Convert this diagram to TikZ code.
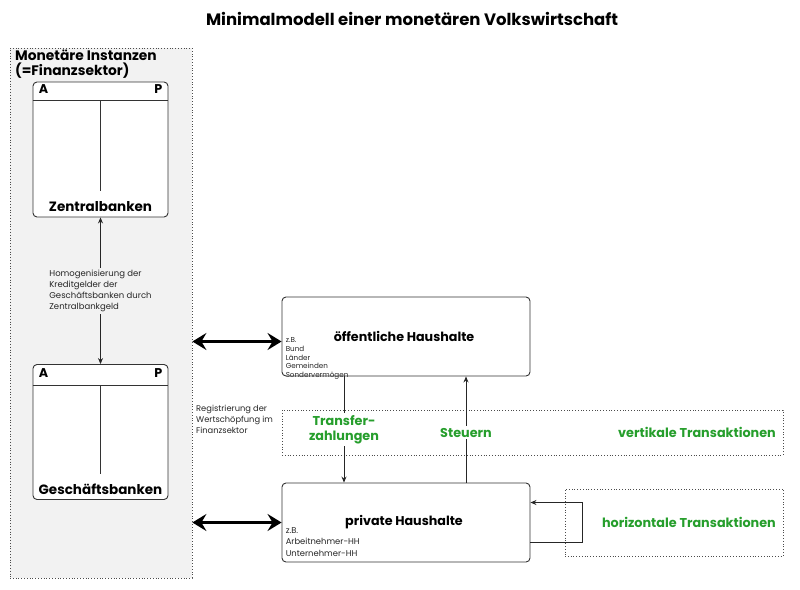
\documentclass[tikz,border=0pt]{standalone}
\usepackage{fontspec}
\setmainfont{Poppins}
\usetikzlibrary{arrows.meta, positioning}
\definecolor{trgreen}{RGB}{38,158,44}
\tikzset{
  konto/.style={
    rectangle, rounded corners=4pt, minimum width=135pt, minimum height=135pt,
    draw=black!80, fill=white, line width=0.9pt
  },
  haushalt/.style={
    rectangle, rounded corners=4pt, minimum width=248pt, minimum height=79pt,
    draw=black!80, fill=white, line width=0.9pt
  },
  sektor/.style={
    rectangle, draw=black!70, dotted, line width=0.8pt, inner sep=0pt
  },
  titel/.style={font=\fontsize{12.7}{14}\selectfont\bfseries},
  kontoname/.style={font=\fontsize{13.5}{15}\selectfont\bfseries},
  klein/.style={font=\fontsize{7.5}{9.5}\selectfont, align=left, text=black!85, inner sep=0pt},
  gruen/.style={font=\fontsize{12.8}{14.5}\selectfont\bfseries, text=trgreen, align=center},
  arrow/.style={
    -{Stealth[length=6pt,width=5pt]}, line width=0.8pt, color=black!85
  },
  dblarrow/.style={
    {Stealth[length=14pt,width=17pt,inset=5pt]}-{Stealth[length=14pt,width=17pt,inset=5pt]},
    line width=3pt
  }
}

\begin{document}
\begin{tikzpicture}[x=1pt, y=-1pt]
      \useasboundingbox (0,0) rectangle (800,589);
      % Title
      \node[font=\fontsize{16.5}{19}\selectfont\bfseries] (title) at (412,19)
        {Minimalmodell einer monetären Volkswirtschaft};

      % Finanzsektor
      \node[sektor, fill=gray!10, minimum width=182pt, minimum height=530pt] (fin) at (101,313) {};
      \node[font=\fontsize{13.8}{15}\selectfont\bfseries, anchor=base west, align=left, inner sep=0pt]
        (finlabel) at (15,75.5) {Monetäre Instanzen\\(=Finanzsektor)};

      % T-Konten
      \node[konto] (zb) at (100.5,149.5) {};
      \draw[line width=0.9pt, black!80] ([yshift=-19pt]zb.north west) -- ([yshift=-19pt]zb.north east);
      \draw[line width=0.9pt, black!80] ([yshift=-19pt]zb.north) -- ([yshift=26pt]zb.south);
      \node[titel, anchor=north west, inner sep=0pt] (zbA) at ([xshift=6pt,yshift=-3pt]zb.north west) {A};
      \node[titel, anchor=north east, inner sep=0pt] (zbP) at ([xshift=-6pt,yshift=-3pt]zb.north east) {P};
      \node[kontoname, above=2pt of zb.south] (zbname) {Zentralbanken};

      \node[konto] (gb) at (100.5,432) {};
      \draw[line width=0.9pt, black!80] ([yshift=-21pt]gb.north west) -- ([yshift=-21pt]gb.north east);
      \draw[line width=0.9pt, black!80] ([yshift=-21pt]gb.north) -- ([yshift=26pt]gb.south);
      \node[titel, anchor=north west, inner sep=0pt] (gbA) at ([xshift=6pt,yshift=-4pt]gb.north west) {A};
      \node[titel, anchor=north east, inner sep=0pt] (gbP) at ([xshift=-6pt,yshift=-4pt]gb.north east) {P};
      \node[kontoname, above=2pt of gb.south] (gbname) {Geschäftsbanken};

      % Homogenisierung
      \draw[arrow, <->, >={Stealth[length=6pt,width=5pt]}] (gb.north) -- node[klein, fill=gray!10, inner sep=2pt, font=\fontsize{8.5}{11}\selectfont] (homo)
        {Homogenisierung der\\Kreditgelder der\\Geschäftsbanken durch\\Zentralbankgeld} (zb.south);

      % Registrierung
      \node[klein, anchor=north west, font=\fontsize{8.3}{10.8}\selectfont] (reg) at (196,405)
        {Registrierung der\\Wertschöpfung im\\Finanzsektor};

      % Transaktionsbereiche
      \node[sektor, minimum width=501pt, minimum height=45pt] (vt) at (532.5,432.5) {};
      \node[gruen, anchor=east] (vtlabel) at ([xshift=-4pt]vt.east) {vertikale Transaktionen};
      \node[sektor, minimum width=218pt, minimum height=67pt] (ht) at (674,522.5) {};
      \node[gruen, anchor=east] (htlabel) at ([xshift=-4pt]ht.east) {horizontale Transaktionen};

      % Haushalte
      \node[haushalt] (oeh) at (406,336.5) {};
      \node[titel] (oehname) at (404,336) {öffentliche Haushalte};
      \node[klein, font=\fontsize{7.2}{8.6}\selectfont, anchor=south west] (oehbsp) at ([xshift=4pt,yshift=-3pt]oeh.south west)
        {z.B.\\Bund\\Länder\\Gemeinden\\Sondervermögen};

      \node[haushalt] (prh) at (406,522.5) {};
      \node[titel] (prhname) at (404,522) {private Haushalte};
      \node[klein, font=\fontsize{8.4}{11.5}\selectfont, anchor=south west] (prhbsp) at ([xshift=4pt,yshift=6pt]prh.south west)
        {z.B.\\Arbeitnehmer-HH\\Unternehmer-HH};

      % Finanzsektor <-> Haushalte
      \draw[dblarrow] ([yshift=-5pt]fin.east |- oeh.west) -- ([yshift=-5pt]oeh.west);
      \draw[dblarrow] (fin.east |- prh.west) -- (prh.west);

      % vertikale Transaktionen
      \draw[arrow] ([xshift=-62pt]oeh.south) -- node[gruen, fill=white, inner sep=2pt] (transfer) {Transfer-\\zahlungen}
        ([xshift=-62pt]prh.north);
      \draw[arrow] ([xshift=60pt]prh.north) -- node[gruen, fill=white, inner sep=2pt, pos=0.47] (steuern) {Steuern}
        ([xshift=60pt]oeh.south);

      % horizontale Transaktionen
      \draw[arrow] ([yshift=-20pt]prh.east) -- ++(52pt,0) |- ([yshift=20pt]prh.east);
\end{tikzpicture}
\end{document}
